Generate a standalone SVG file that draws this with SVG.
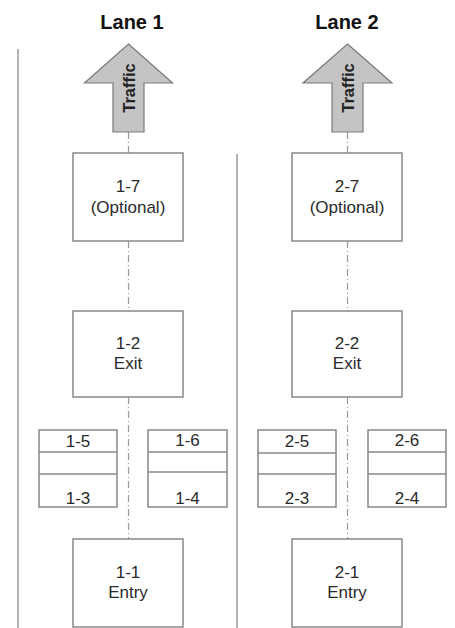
<svg xmlns="http://www.w3.org/2000/svg" width="455" height="628" viewBox="0 0 455 628">
<style>
.lane{stroke:#9a9a9a;stroke-width:1.5;fill:none}
.box{fill:#fff;stroke:#888;stroke-width:1.5}
.div{stroke:#888;stroke-width:1.5}
.arrow{fill:#c4c4c4;stroke:#7a7a7a;stroke-width:1.2}
.dd{stroke:#9a9a9a;stroke-width:1.2;stroke-dasharray:7 3 1 3;fill:none}
.t{font-family:"Liberation Sans",Arial,sans-serif;font-size:17px;fill:#2a2a2a;text-anchor:middle}
.h{font-family:"Liberation Sans",Arial,sans-serif;font-size:20px;font-weight:bold;fill:#111;text-anchor:middle}
.tr{font-family:"Liberation Sans",Arial,sans-serif;font-size:16.5px;font-weight:bold;fill:#222;text-anchor:middle}
</style>
<rect width="455" height="628" fill="#fff"/>
<g id="lanes">
<line class="lane" x1="18" y1="49" x2="18" y2="628"/>
<line class="lane" x1="237" y1="154" x2="237" y2="628"/>
<text class="h" x="132" y="29">Lane 1</text>
<text class="h" x="347" y="29">Lane 2</text>
</g>
<g id="connectors">
<line class="dd" x1="128.5" y1="132" x2="128.5" y2="153"/>
<line class="dd" x1="128.5" y1="241" x2="128.5" y2="311"/>
<line class="dd" x1="128.5" y1="397" x2="128.5" y2="539"/>
<line class="dd" x1="347.5" y1="132" x2="347.5" y2="153"/>
<line class="dd" x1="347.5" y1="241" x2="347.5" y2="311"/>
<line class="dd" x1="347.5" y1="397" x2="347.5" y2="539"/>
</g>
<g id="traffic1">
<polygon class="arrow" points="128.5,44 172.5,83 144,83 144,132 113,132 113,83 84.5,83"/>
<text class="tr" transform="translate(134.5,88) rotate(-90)">Traffic</text>
</g>
<g id="traffic2">
<polygon class="arrow" points="347.5,44 392,83 363,83 363,132 332,132 332,83 303,83"/>
<text class="tr" transform="translate(353.5,88) rotate(-90)">Traffic</text>
</g>
<g id="n1-7">
<rect class="box" x="73" y="153" width="110" height="88"/>
<text class="t" x="128" y="192">1-7</text>
<text class="t" x="128" y="213">(Optional)</text>
</g>
<g id="n1-2">
<rect class="box" x="73" y="311" width="110" height="86"/>
<text class="t" x="128" y="349">1-2</text>
<text class="t" x="128" y="369">Exit</text>
</g>
<g id="n1-5-3">
<rect class="box" x="39" y="430" width="78" height="77"/>
<line class="div" x1="39" y1="452" x2="117" y2="452"/>
<line class="div" x1="39" y1="474" x2="117" y2="474"/>
<text class="t" x="78" y="447">1-5</text>
<text class="t" x="78" y="504">1-3</text>
</g>
<g id="n1-6-4">
<rect class="box" x="148" y="430" width="79" height="77"/>
<line class="div" x1="148" y1="452" x2="227" y2="452"/>
<line class="div" x1="148" y1="472" x2="227" y2="472"/>
<text class="t" x="187.5" y="446">1-6</text>
<text class="t" x="187.5" y="504">1-4</text>
</g>
<g id="n1-1">
<rect class="box" x="73" y="539" width="110" height="88"/>
<text class="t" x="128" y="578">1-1</text>
<text class="t" x="128" y="598">Entry</text>
</g>
<g id="n2-7">
<rect class="box" x="292" y="153" width="110" height="88"/>
<text class="t" x="347" y="192">2-7</text>
<text class="t" x="347" y="213">(Optional)</text>
</g>
<g id="n2-2">
<rect class="box" x="292" y="311" width="110" height="86"/>
<text class="t" x="347" y="349">2-2</text>
<text class="t" x="347" y="369">Exit</text>
</g>
<g id="n2-5-3">
<rect class="box" x="258" y="430" width="78" height="77"/>
<line class="div" x1="258" y1="453" x2="336" y2="453"/>
<line class="div" x1="258" y1="474" x2="336" y2="474"/>
<text class="t" x="297" y="447">2-5</text>
<text class="t" x="297" y="504">2-3</text>
</g>
<g id="n2-6-4">
<rect class="box" x="368" y="430" width="78" height="77"/>
<line class="div" x1="368" y1="452" x2="446" y2="452"/>
<line class="div" x1="368" y1="474" x2="446" y2="474"/>
<text class="t" x="407" y="446">2-6</text>
<text class="t" x="407" y="504">2-4</text>
</g>
<g id="n2-1">
<rect class="box" x="292" y="539" width="110" height="88"/>
<text class="t" x="347" y="578">2-1</text>
<text class="t" x="347" y="598">Entry</text>
</g>
</svg>
